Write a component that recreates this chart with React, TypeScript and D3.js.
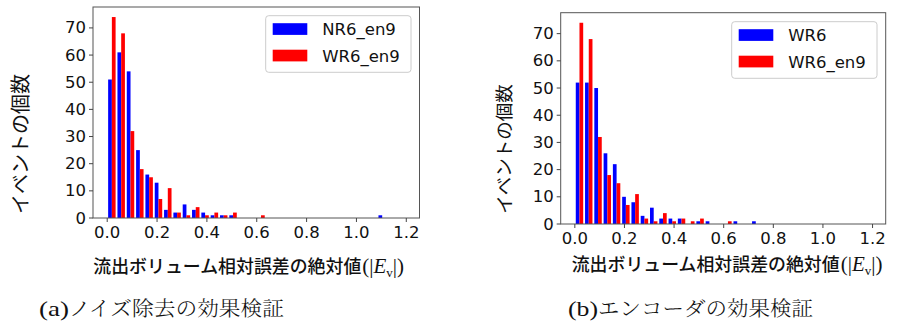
import * as d3 from "d3";

// histogram bins (|Ev|), bin width in data units, first bin starts at 0
const binWidth = 0.0374;
const xTicks = [0, 0.2, 0.4, 0.6, 0.8, 1.0, 1.2];
const yTicks = [0, 10, 20, 30, 40, 50, 60, 70];

// (a) noise removal
const nr6En9 = [51, 61, 54, 25, 16, 13, 3, 2, 5, 3, 2, 1, 1, 1, 0, 0, 0, 0, 0, 0, 0, 0, 0, 0, 0, 0, 0, 0, 0, 1];
const wr6En9 = [74, 68, 32, 18, 15, 7, 11, 2, 1, 4, 1, 2, 1, 2, 0, 0, 1];
// (b) encoder
const wr6 = [52, 52, 50, 26, 22, 10, 8, 3, 6, 2, 2, 2, 0, 1, 1, 0, 0, 1, 0, 1];

const legendA = ["NR6_en9", "WR6_en9"];
const legendB = ["WR6", "WR6_en9"];

const yLabel = "イベントの個数";
const xLabel = "流出ボリューム相対誤差の絶対値";
const captionA = ["(a)", "ノイズ除去の効果検証"];
const captionB = ["(b)", "エンコーダの効果検証"];

const tickFont = "DejaVu Sans, sans-serif";
const cjkFont = "Noto Sans CJK JP, sans-serif";
const serifFont = "Liberation Serif, serif";

type Props = {
  left: number;
  top: number;
  right: number;
  bottom: number;
  series: number[][];
  names: string[];
  legend: { x: number; y: number; w: number; h: number };
  yLab: { x: number; y: number; size: number };
  xLab: { x: number; y: number };
  caption: string[];
  capX: number;
};

function Hist({ left, top, right, bottom, series, names, legend, yLab, xLab, caption, capX }: Props) {
  const x = d3.scaleLinear().domain([-0.057, 1.253]).range([left, right]);
  const y = d3.scaleLinear().domain([0, 77.7]).range([bottom, top]);
  const colors = ["#0000ff", "#ff0000"];
  const bw = x(binWidth) - x(0);

  return (
    <g>
      {series.map((counts, s) =>
        counts.map((c, i) =>
          c > 0 ? (
            <rect
              key={`${s}-${i}`}
              x={x(i * binWidth + binWidth * (0.1 + 0.4 * s))}
              y={y(c)}
              width={bw * 0.4}
              height={y(0) - y(c)}
              fill={colors[s]}
            />
          ) : null
        )
      )}
      <rect x={left} y={top} width={right - left} height={bottom - top} fill="none" stroke="#555" strokeWidth={1} />
      {xTicks.map((t) => (
        <g key={t}>
          <line x1={x(t)} x2={x(t)} y1={bottom} y2={bottom + 4} stroke="#444" />
          <text x={x(t)} y={bottom + 20} textAnchor="middle" fontFamily={tickFont} fontSize={16.5} fill="#111">
            {t.toFixed(1)}
          </text>
        </g>
      ))}
      {yTicks.map((t) => (
        <g key={t}>
          <line x1={left - 4} x2={left} y1={y(t)} y2={y(t)} stroke="#444" />
          <text x={left - 7} y={y(t)} textAnchor="end" dominantBaseline="central" fontFamily={tickFont} fontSize={16.5} fill="#111">
            {t}
          </text>
        </g>
      ))}
      {/* legend */}
      <rect x={legend.x} y={legend.y} width={legend.w} height={legend.h} rx={3} fill="#fff" fillOpacity={0.8} stroke="#ccc" />
      {names.map((n, i) => (
        <g key={n}>
          <rect x={legend.x + 7} y={legend.y + 7.5 + i * 26.5} width={34.6} height={11.7} fill={colors[i]} />
          <text x={legend.x + 56.5} y={legend.y + 19.3 + i * 26.5} fontFamily={tickFont} fontSize={16.5} fill="#111">
            {n}
          </text>
        </g>
      ))}
      <text
        transform={`translate(${yLab.x},${yLab.y}) rotate(-90)`}
        textAnchor="middle"
        dominantBaseline="central"
        fontFamily={cjkFont}
        fontSize={yLab.size}
        fill="#111"
      >
        {yLabel}
      </text>
      <text x={xLab.x} y={xLab.y} fontFamily={cjkFont} fontSize={18} fontWeight={500} fill="#111" textLength={268} lengthAdjust="spacingAndGlyphs">
        {xLabel}
      </text>
      <text x={xLab.x + 269} y={xLab.y} fontFamily={serifFont} fontSize={21} fill="#111">
        (|<tspan fontStyle="italic">E</tspan>
        <tspan fontSize={13} dy={4}>v</tspan>
        <tspan dy={-4}>|)</tspan>
      </text>
      <text x={capX} y={316} fontFamily={serifFont} fontSize={21} fill="#111" textLength={30} lengthAdjust="spacingAndGlyphs">
        {caption[0]}
      </text>
      <text
        x={capX + 30}
        y={316}
        fontFamily="Noto Serif CJK JP, Noto Sans CJK JP, serif"
        fontSize={20}
        fontWeight={300}
        fill="#111"
        textLength={215}
        lengthAdjust="spacingAndGlyphs"
      >
        {caption[1]}
      </text>
    </g>
  );
}

export default function App() {
  return (
    <svg width={897} height={322} style={{ position: "absolute", left: 0, top: 0, background: "#fff" }}>
      <Hist
        left={93}
        top={7}
        right={419.5}
        bottom={218}
        series={[nr6En9, wr6En9]}
        names={legendA}
        legend={{ x: 265.7, y: 15.7, w: 145.3, h: 56.6 }}
        yLab={{ x: 19, y: 144, size: 20 }}
        xLab={{ x: 93.3, y: 273 }}
        caption={captionA}
        capX={39}
      />
      <Hist
        left={560.7}
        top={12.7}
        right={885.7}
        bottom={224}
        series={[wr6, wr6En9]}
        names={legendB}
        legend={{ x: 731.7, y: 21.7, w: 145.3, h: 56.6 }}
        yLab={{ x: 503, y: 149, size: 18.5 }}
        xLab={{ x: 571.7, y: 271.3 }}
        caption={captionB}
        capX={568}
      />
    </svg>
  );
}
